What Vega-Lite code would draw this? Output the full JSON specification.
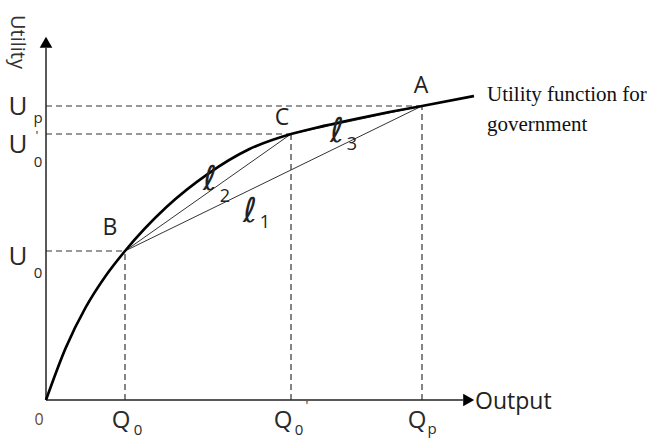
{
  "$schema": "https://vega.github.io/schema/vega-lite/v6.json",
  "width": 430,
  "height": 367,
  "autosize": {"type": "none"},
  "padding": {"left": 46, "top": 33, "right": 188, "bottom": 41},
  "background": "white",
  "config": {"view": {"stroke": null}},
  "datasets": {
    "curve": [
      {"x": 0, "y": 0}, {"x": 0.459, "y": 1.42}, {"x": 0.919, "y": 2.515}, {"x": 1.378, "y": 3.365},
      {"x": 1.837, "y": 4.06}, {"x": 2.802, "y": 5.259}, {"x": 3.767, "y": 6.163}, {"x": 4.733, "y": 6.839},
      {"x": 5.698, "y": 7.248}, {"x": 6.459, "y": 7.469}, {"x": 7.221, "y": 7.665}, {"x": 7.983, "y": 7.845},
      {"x": 8.744, "y": 8.011}, {"x": 9.953, "y": 8.283}
    ],
    "dashed": [
      {"x": 0, "y": 8.011, "x2": 8.744, "y2": 8.011},
      {"x": 0, "y": 7.248, "x2": 5.698, "y2": 7.248},
      {"x": 0, "y": 4.06, "x2": 1.837, "y2": 4.06},
      {"x": 1.837, "y": 0, "x2": 1.837, "y2": 4.06},
      {"x": 5.698, "y": 0, "x2": 5.698, "y2": 7.248},
      {"x": 8.744, "y": 0, "x2": 8.744, "y2": 8.011}
    ],
    "chords": [
      {"x": 1.837, "y": 4.06, "x2": 8.744, "y2": 8.011},
      {"x": 1.837, "y": 4.06, "x2": 5.698, "y2": 7.248},
      {"x": 5.698, "y": 7.248, "x2": 8.744, "y2": 8.011}
    ],
    "axes": [
      {"x": 0, "y": 0, "x2": 0, "y2": 9.6},
      {"x": 0, "y": 0, "x2": 9.7, "y2": 0}
    ],
    "arrowUp": [{"x": 0, "y": 9.75}],
    "arrowRight": [{"x": 9.83, "y": 0}],
    "points": [
      {"x": 8.721, "y": 8.556, "t": "A"},
      {"x": 1.488, "y": 4.687, "t": "B"},
      {"x": 5.488, "y": 7.684, "t": "C"}
    ],
    "uLabels": [
      {"x": -0.651, "y": 7.984, "t": "U"},
      {"x": -0.651, "y": 6.948, "t": "U"},
      {"x": -0.651, "y": 3.896, "t": "U"}
    ],
    "qLabels": [
      {"x": 1.744, "y": -0.572, "t": "Q"},
      {"x": 5.512, "y": -0.572, "t": "Q"},
      {"x": 8.628, "y": -0.572, "t": "Q"}
    ],
    "subs": [
      {"x": -0.186, "y": 7.68, "t": "p"},
      {"x": -0.186, "y": 6.485, "t": "0"},
      {"x": -0.186, "y": 3.46, "t": "0"},
      {"x": 2.14, "y": -0.83, "t": "0"},
      {"x": 5.884, "y": -0.83, "t": "0"},
      {"x": 8.977, "y": -0.79, "t": "p"}
    ],
    "primes": [
      {"x": -0.209, "y": 7.2, "t": "'"},
      {"x": 6.07, "y": -0.163, "t": "'"}
    ],
    "zero": [{"x": -0.163, "y": -0.545, "t": "0"}],
    "ells": [
      {"x": 3.814, "y": 5.995, "t": "ℓ"},
      {"x": 4.744, "y": 5.123, "t": "ℓ"},
      {"x": 6.767, "y": 7.302, "t": "ℓ"}
    ],
    "ellSubs": [
      {"x": 4.163, "y": 5.531, "t": "2"},
      {"x": 5.093, "y": 4.823, "t": "1"},
      {"x": 7.116, "y": 6.948, "t": "3"}
    ],
    "xTitle": [{"x": 9.977, "y": -0.054, "t": "Output"}],
    "yTitle": [{"x": -0.674, "y": 9.755, "t": "Utility"}],
    "caption": [
      {"x": 10.256, "y": 8.311, "t": "Utility function for"},
      {"x": 10.256, "y": 7.493, "t": "government"}
    ]
  },
  "encoding": {
    "x": {"field": "x", "type": "quantitative", "scale": {"domain": [0, 10], "nice": false, "zero": false}, "axis": null},
    "y": {"field": "y", "type": "quantitative", "scale": {"domain": [0, 10], "nice": false, "zero": false}, "axis": null}
  },
  "layer": [
    {"data": {"name": "dashed"}, "mark": {"type": "rule", "color": "#333", "strokeWidth": 1.2, "strokeDash": [6, 4]},
     "encoding": {"x2": {"field": "x2"}, "y2": {"field": "y2"}}},
    {"data": {"name": "chords"}, "mark": {"type": "rule", "color": "#333", "strokeWidth": 1},
     "encoding": {"x2": {"field": "x2"}, "y2": {"field": "y2"}}},
    {"data": {"name": "axes"}, "mark": {"type": "rule", "color": "#222", "strokeWidth": 1.5},
     "encoding": {"x2": {"field": "x2"}, "y2": {"field": "y2"}}},
    {"data": {"name": "curve"}, "mark": {"type": "line", "color": "#000", "strokeWidth": 2.6, "interpolate": "monotone"}},
    {"data": {"name": "arrowUp"}, "mark": {"type": "point", "shape": "triangle-up", "filled": true, "color": "#000", "size": 160, "opacity": 1}},
    {"data": {"name": "arrowRight"}, "mark": {"type": "point", "shape": "triangle-right", "filled": true, "color": "#000", "size": 160, "opacity": 1}},
    {"data": {"name": "points"}, "mark": {"type": "text", "font": "Open Sans", "fontSize": 23, "color": "#222", "align": "center", "baseline": "middle"},
     "encoding": {"text": {"field": "t"}}},
    {"data": {"name": "uLabels"}, "mark": {"type": "text", "font": "Open Sans", "fontSize": 26, "color": "#2a2a2a", "align": "center", "baseline": "middle"},
     "encoding": {"text": {"field": "t"}}},
    {"data": {"name": "qLabels"}, "mark": {"type": "text", "font": "Open Sans", "fontSize": 24, "color": "#2a2a2a", "align": "center", "baseline": "middle"},
     "encoding": {"text": {"field": "t"}}},
    {"data": {"name": "subs"}, "mark": {"type": "text", "font": "Open Sans", "fontSize": 15, "color": "#2a2a2a", "align": "center", "baseline": "middle"},
     "encoding": {"text": {"field": "t"}}},
    {"data": {"name": "primes"}, "mark": {"type": "text", "font": "Open Sans", "fontSize": 13, "color": "#2a2a2a", "align": "center", "baseline": "middle"},
     "encoding": {"text": {"field": "t"}}},
    {"data": {"name": "zero"}, "mark": {"type": "text", "font": "Open Sans", "fontSize": 16, "color": "#6b4a1e", "align": "center", "baseline": "middle"},
     "encoding": {"text": {"field": "t"}}},
    {"data": {"name": "ells"}, "mark": {"type": "text", "font": "DejaVu Sans", "fontStyle": "italic", "fontSize": 34, "color": "#222", "align": "center", "baseline": "middle"},
     "encoding": {"text": {"field": "t"}}},
    {"data": {"name": "ellSubs"}, "mark": {"type": "text", "font": "Open Sans", "fontSize": 18, "color": "#222", "align": "center", "baseline": "middle"},
     "encoding": {"text": {"field": "t"}}},
    {"data": {"name": "xTitle"}, "mark": {"type": "text", "font": "Open Sans", "fontSize": 23, "color": "#222", "align": "left", "baseline": "middle"},
     "encoding": {"text": {"field": "t"}}},
    {"data": {"name": "yTitle"}, "mark": {"type": "text", "font": "Open Sans", "fontSize": 20, "color": "#333", "align": "center", "baseline": "middle", "angle": 90},
     "encoding": {"text": {"field": "t"}}},
    {"data": {"name": "caption"}, "mark": {"type": "text", "font": "Liberation Serif", "fontSize": 21, "color": "#111", "align": "left", "baseline": "middle"},
     "encoding": {"text": {"field": "t"}}}
  ]
}
